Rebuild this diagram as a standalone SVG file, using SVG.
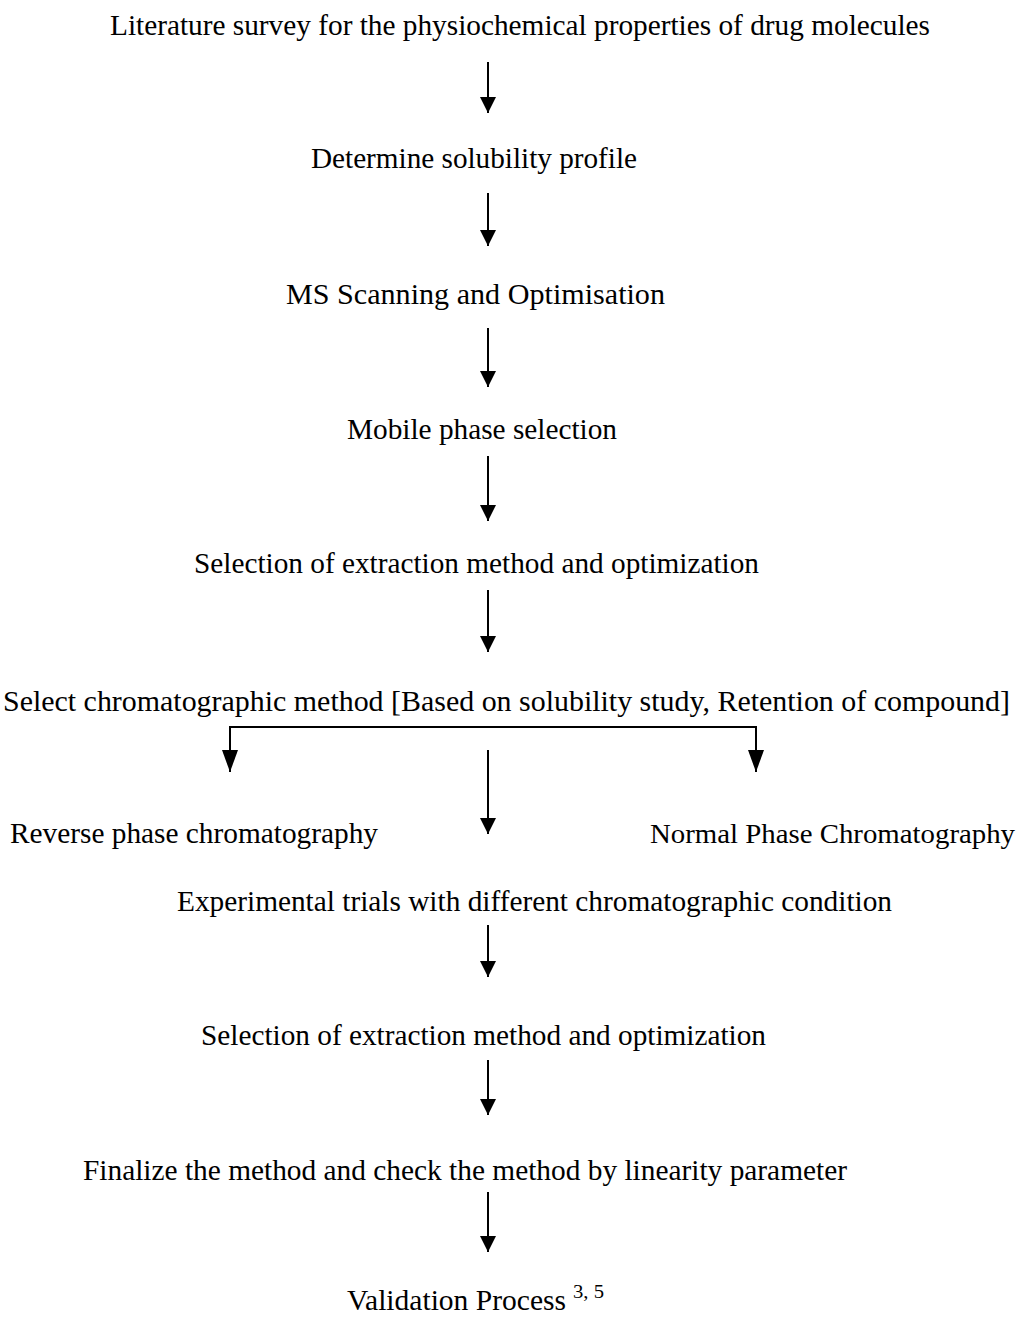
<svg xmlns="http://www.w3.org/2000/svg" width="1024" height="1317" viewBox="0 0 1024 1317">
  <style>
    .t { font-family: "Liberation Serif", "Times New Roman", serif; font-size: 30px; fill: #000; }
    .s { font-size: 28px; }
    .sup { font-family: "Liberation Serif", "Times New Roman", serif; font-size: 18px; fill: #000; }
    .c { fill: none; stroke: #000; stroke-width: 2; }
  </style>
  <defs>
    <marker id="ah" viewBox="0 0 16 16" markerWidth="16" markerHeight="16" refX="16" refY="8" orient="auto" markerUnits="userSpaceOnUse">
      <path d="M0,0 L16,8 L0,16 z" fill="#000"/>
    </marker>
    <marker id="ahb" viewBox="0 0 22 16" markerWidth="22" markerHeight="16" refX="22" refY="8" orient="auto-start-reverse" markerUnits="userSpaceOnUse">
      <path d="M0,0 L22,8 L0,16 z" fill="#000"/>
    </marker>
  </defs>

  <g id="n1"><text class="t" x="110" y="35" textLength="820" lengthAdjust="spacingAndGlyphs">Literature survey for the physiochemical properties of drug molecules</text></g>
  <g id="n2"><text class="t" x="311" y="168" textLength="326" lengthAdjust="spacingAndGlyphs">Determine solubility profile</text></g>
  <g id="n3"><text class="t" x="286" y="304" textLength="379" lengthAdjust="spacingAndGlyphs">MS Scanning and Optimisation</text></g>
  <g id="n4"><text class="t" x="347" y="439" textLength="270" lengthAdjust="spacingAndGlyphs">Mobile phase selection</text></g>
  <g id="n5"><text class="t" x="194" y="573" textLength="565" lengthAdjust="spacingAndGlyphs">Selection of extraction method and optimization</text></g>
  <g id="n6"><text class="t" x="3" y="711" textLength="1007" lengthAdjust="spacingAndGlyphs">Select chromatographic method [Based on solubility study, Retention of compound]</text></g>
  <g id="n7"><text class="t" x="10" y="843" textLength="368" lengthAdjust="spacingAndGlyphs">Reverse phase chromatography</text></g>
  <g id="n8"><text class="t s" x="650" y="843" textLength="365" lengthAdjust="spacingAndGlyphs">Normal Phase Chromatography</text></g>
  <g id="n9"><text class="t" x="177" y="911" textLength="715" lengthAdjust="spacingAndGlyphs">Experimental trials with different chromatographic condition</text></g>
  <g id="n10"><text class="t" x="201" y="1045" textLength="565" lengthAdjust="spacingAndGlyphs">Selection of extraction method and optimization</text></g>
  <g id="n11"><text class="t" x="83" y="1180" textLength="764" lengthAdjust="spacingAndGlyphs">Finalize the method and check the method by linearity parameter</text></g>
  <g id="n12">
    <text class="t" x="347" y="1310" textLength="219" lengthAdjust="spacingAndGlyphs">Validation Process</text>
    <text class="sup" x="573" y="1298" textLength="31" lengthAdjust="spacingAndGlyphs">3, 5</text>
  </g>

  <g id="connectors">
    <path class="c" d="M488,62 V113" marker-end="url(#ah)"/>
    <path class="c" d="M488,193 V246" marker-end="url(#ah)"/>
    <path class="c" d="M488,328 V387" marker-end="url(#ah)"/>
    <path class="c" d="M488,456 V521" marker-end="url(#ah)"/>
    <path class="c" d="M488,590 V652" marker-end="url(#ah)"/>
    <path class="c" d="M230,772 V727 H756 V772" marker-start="url(#ahb)" marker-end="url(#ahb)"/>
    <path class="c" d="M488,750 V834" marker-end="url(#ah)"/>
    <path class="c" d="M488,925 V977" marker-end="url(#ah)"/>
    <path class="c" d="M488,1060 V1115" marker-end="url(#ah)"/>
    <path class="c" d="M488,1192 V1252" marker-end="url(#ah)"/>
  </g>
</svg>
